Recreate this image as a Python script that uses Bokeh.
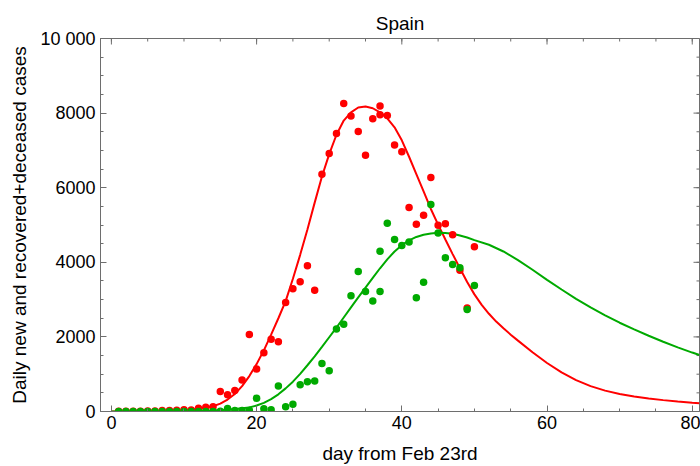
import math
from bokeh.plotting import figure
from bokeh.models import Range1d, FixedTicker, ColumnDataSource
from bokeh.embed import file_html
from bokeh.resources import INLINE

# ---- data ----
point_days = list(range(1, 37)) + [37, 37] + list(range(38, 51))

new_cases = [5, 5, 10, 10, 15, 15, 25, 30, 35, 45, 40, 89, 115, 125,
             538, 449, 564, 842, 2061, 1138, 1577, 1935, 1873, 2921, 3289,
             3477, 3907, 3253, 6362, 6918, 7455, 8260, 7922, 7509, 6873,
             7849, 8190, 7957, 7939, 7142, 6962, 5466, 5018, 5260, 6272,
             4991, 5036, 4740, 3790, 2777, 4418]

recovered_deceased = [0, 0, 0, 0, 0, 0, 0, 0, 0, 0, 0, 0, 0, 0,
                      10, 81, 27, 27, 35, 358, 72, 45, 681, 125, 197,
                      717, 797, 815, 1290, 1093, 2213, 2339, 3100, 3755, 3218,
                      2960, 3218, 4293, 5045, 4610, 4450, 4543, 3047, 3468, 5547,
                      4785, 4122, 3943, 3853, 2733, 3378]

fit_new_days = [0, 4, 8, 10, 12, 13, 14, 15, 16, 17, 18, 19, 20, 21, 22, 23,
                24, 25, 26, 27, 28, 29, 30, 31, 32, 33, 34, 35, 36, 37, 38,
                39, 40, 41, 42, 43, 44, 45, 46, 47, 48, 49, 50, 51, 52, 53,
                54, 55, 56, 58, 60, 62, 64, 66, 68, 70, 72, 74, 76, 78, 80, 81]
fit_new = [0, 3, 15, 35, 75, 105, 140, 210, 320, 470, 680, 950, 1270, 1640,
           2060, 2500, 2960, 3560, 4200, 4880, 5600, 6300, 6900, 7420, 7800,
           8020, 8150, 8175, 8130, 8020, 7860, 7620, 7270, 6830, 6362, 5900,
           5430, 5010, 4610, 4220, 3840, 3470, 3140, 2860, 2620, 2410,
           2230, 2060, 1900, 1590, 1300, 1050, 840, 680, 560, 470, 405, 350,
           305, 267, 235, 222]

fit_rec_days = [0, 8, 12, 14, 16, 18, 19, 20, 21, 22, 23, 24, 25, 26, 27, 28,
                29, 30, 31, 32, 33, 34, 35, 36, 37, 38, 39, 40, 41, 42, 43,
                44, 45, 46, 47, 48, 49, 50, 52, 54, 56, 58, 60, 62, 64, 66,
                68, 70, 72, 74, 76, 78, 80, 81]
fit_rec = [0, 2, 10, 25, 50, 90, 110, 160, 230, 330, 460, 620, 800, 1010,
           1240, 1480, 1730, 1990, 2250, 2520, 2790, 3060, 3320, 3580, 3840,
           4080, 4290, 4460, 4590, 4680, 4740, 4775, 4790, 4785, 4765, 4720,
           4665, 4595, 4470, 4290, 4060, 3800, 3530, 3270, 3020, 2790,
           2580, 2380, 2200, 2030, 1870, 1720, 1580, 1515]

x_ticks = [0, 20, 40, 60, 80]
x_minor_ticks = list(range(0, 85, 5))
y_ticks = [0, 2000, 4000, 6000, 8000, 10000]
y_minor_ticks = list(range(0, 10001, 500))
y_tick_labels = {10000: "10 000"}
x_limits = (-1.5, 81)
y_limits = (0, 10000)

RED = "#ff0000"
GREEN = "#00aa00"
FONT = "Liberation Sans"
FRAME = "#6e6e6e"

p = figure(width=700, height=466, output_backend="svg", toolbar_location=None,
           x_range=Range1d(*x_limits), y_range=Range1d(*y_limits),
           title="Spain", x_axis_label="day from Feb 23rd",
           y_axis_label="Daily new and recovered+deceased cases",
           min_border_left=100, min_border_right=1, min_border_top=38,
           min_border_bottom=55)
p.grid.visible = False
p.outline_line_color = FRAME
p.background_fill_color = "white"
p.border_fill_color = "white"

p.title.align = "center"
p.title.text_font = FONT
p.title.text_font_size = "19px"
p.title.text_font_style = "normal"
p.title.text_color = "black"
p.title.standoff = 10

xt = FixedTicker(ticks=x_ticks, minor_ticks=x_minor_ticks)
yt = FixedTicker(ticks=y_ticks, minor_ticks=y_minor_ticks)

for ax in (p.xaxis[0], p.yaxis[0]):
    ax.axis_line_color = FRAME
    ax.major_tick_line_color = FRAME
    ax.minor_tick_line_color = FRAME
    ax.major_tick_in = 6
    ax.major_tick_out = 0
    ax.minor_tick_in = 3
    ax.minor_tick_out = 0
    ax.major_label_text_font = FONT
    ax.major_label_text_color = "black"
    ax.major_label_text_font_size = "18px"
    ax.axis_label_text_font = FONT
    ax.axis_label_text_font_style = "normal"
    ax.axis_label_text_color = "black"
    ax.axis_label_text_font_size = "19px"

p.xaxis.ticker = xt
p.yaxis.ticker = yt
p.yaxis.major_label_overrides = y_tick_labels
p.xaxis.major_label_standoff = 4
p.yaxis.major_label_standoff = 5
p.xaxis.axis_label_standoff = 11
p.yaxis.axis_label_standoff = 7

# mirrored inward ticks on the top and right frame edges (clipped to the frame)
top_major = ColumnDataSource(dict(x=x_ticks, y=[y_limits[1]] * len(x_ticks)))
top_minor = ColumnDataSource(dict(x=x_minor_ticks, y=[y_limits[1]] * len(x_minor_ticks)))
right_major = ColumnDataSource(dict(x=[x_limits[1]] * len(y_ticks), y=y_ticks))
right_minor = ColumnDataSource(dict(x=[x_limits[1]] * len(y_minor_ticks), y=y_minor_ticks))
p.scatter("x", "y", source=top_major, marker="dash", angle=math.pi / 2, size=12,
          line_color=FRAME, line_width=1)
p.scatter("x", "y", source=top_minor, marker="dash", angle=math.pi / 2, size=6,
          line_color=FRAME, line_width=1)
p.scatter("x", "y", source=right_major, marker="dash", size=12,
          line_color=FRAME, line_width=1)
p.scatter("x", "y", source=right_minor, marker="dash", size=6,
          line_color=FRAME, line_width=1)

p.line(fit_new_days, fit_new, line_color=RED, line_width=2)
p.line(fit_rec_days, fit_rec, line_color=GREEN, line_width=2)

src_new = ColumnDataSource(dict(x=point_days, y=new_cases))
src_rec = ColumnDataSource(dict(x=point_days, y=recovered_deceased))
p.scatter("x", "y", source=src_new, size=7.5, fill_color=RED, line_color=None)
p.scatter("x", "y", source=src_rec, size=7.5, fill_color=GREEN, line_color=None)

open("out.html", "w").write(file_html(p, INLINE))
